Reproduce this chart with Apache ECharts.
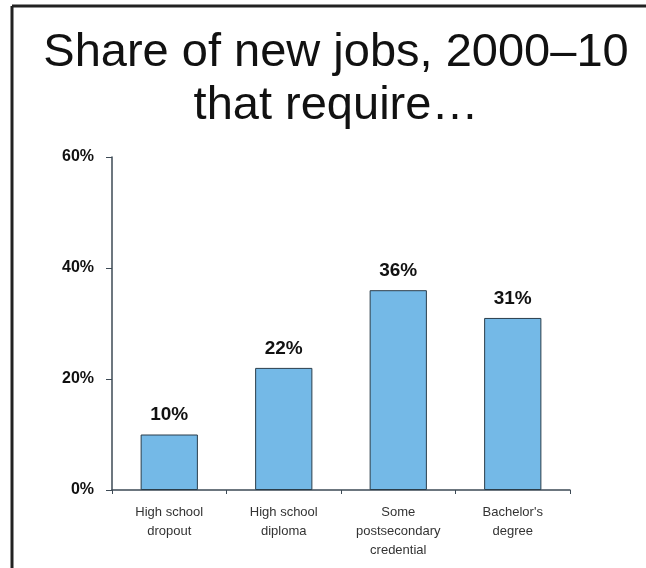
<!DOCTYPE html>
<html>
<head>
<meta charset="utf-8">
<script src="https://cdn.jsdelivr.net/npm/echarts@6/dist/echarts.min.js"></script>
<style>
  html, body { margin: 0; padding: 0; background: #fff; }
  #main { width: 646px; height: 568px; }
</style>
</head>
<body>
<div id="main"></div>
<script>
const categories = ['High school\ndropout', 'High school\ndiploma', 'Some\npostsecondary\ncredential', "Bachelor's\ndegree"];
const shares = [10, 22, 36, 31];
const yTicks = [0, 20, 40, 60];

var myChart = echarts.init(document.getElementById('main'));

var option = {
    backgroundColor: '#fff',
    animation: false,
    title: {
        text: 'Share of new jobs, 2000\u201310\nthat require\u2026',
        left: 331,
        textAlign: 'center',
        top: 22,
        textStyle: {
            fontFamily: 'Liberation Sans',
            fontSize: 47,
            fontWeight: 'normal',
            color: '#111',
            lineHeight: 53
        }
    },
    graphic: [
        { type: 'line', shape: { x1: 12, y1: 6, x2: 646, y2: 6 }, style: { stroke: '#222', lineWidth: 3 } },
        { type: 'line', shape: { x1: 12, y1: 6, x2: 12, y2: 568 }, style: { stroke: '#222', lineWidth: 3 } }
    ],
    grid: {
        left: 112,
        right: 76,
        top: 157,
        bottom: 78
    },
    xAxis: {
        type: 'category',
        data: categories,
        axisLine: { lineStyle: { color: '#3d4a55', width: 1.5 } },
        axisTick: { show: true, length: 4, lineStyle: { color: '#3d4a55' } },
        axisLabel: {
            fontFamily: 'Liberation Sans',
            fontSize: 13,
            color: '#333',
            lineHeight: 19,
            margin: 13
        }
    },
    yAxis: {
        type: 'value',
        min: yTicks[0],
        max: yTicks[yTicks.length - 1],
        interval: 20,
        splitLine: { show: false },
        axisLine: { show: true, lineStyle: { color: '#3d4a55', width: 1.5 } },
        axisTick: { show: true, length: 6, lineStyle: { color: '#3d4a55' } },
        axisLabel: {
            formatter: '{value}%',
            fontFamily: 'Liberation Sans',
            fontSize: 16,
            fontWeight: 'bold',
            color: '#111',
            margin: 18
        }
    },
    series: [
        {
            type: 'bar',
            data: shares,
            barWidth: '50%',
            itemStyle: {
                color: '#74b9e7',
                borderColor: '#2a3d4a',
                borderWidth: 1
            },
            label: {
                show: true,
                position: 'top',
                distance: 10,
                formatter: '{c}%',
                fontFamily: 'Liberation Sans',
                fontSize: 19,
                fontWeight: 'bold',
                color: '#111'
            }
        }
    ]
};
option && myChart.setOption(option);
</script>
</body>
</html>
